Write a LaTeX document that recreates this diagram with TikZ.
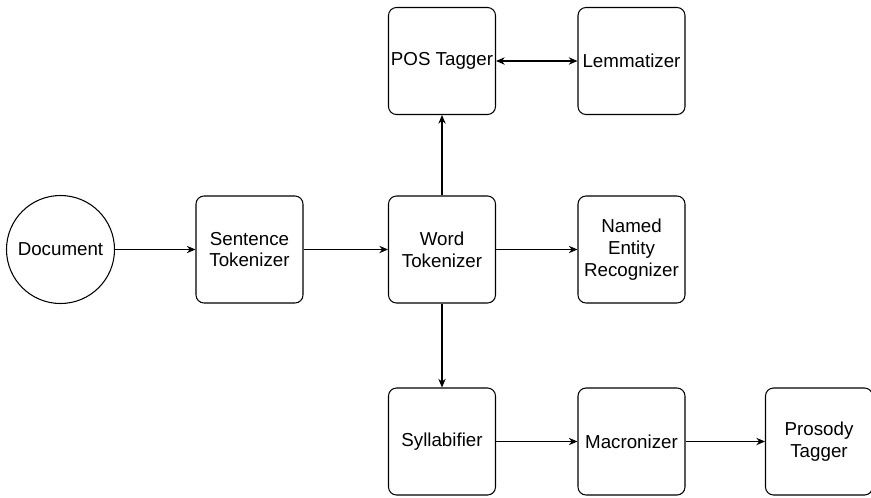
\documentclass[tikz,border=0pt]{standalone}
\usepackage{fontspec}
\setmainfont{Liberation Sans}
\usetikzlibrary{positioning,arrows.meta}

\begin{document}
\begin{tikzpicture}[
  stage/.style={rectangle, draw, rounded corners=0.24cm, minimum width=3.21cm, minimum height=3.21cm, align=center, font=\fontsize{16}{18.5}\selectfont, line width=0.9pt, inner sep=0pt},
  source/.style={circle, draw, minimum size=3.24cm, align=center, font=\fontsize{16}{18.5}\selectfont, line width=0.9pt, inner sep=0pt},
  >={Stealth[length=0.26cm, width=0.22cm]}
]
  \useasboundingbox (0,0) rectangle (26.13,-14.91);

  \node[source] (document) at (1.815,-7.485) {Document};
  \node[stage] (sentence) at (7.485,-7.485) {Sentence\\Tokenizer};
  \node[stage] (word) at (13.26,-7.485) {Word\\Tokenizer};
  \node[stage] (pos) at (13.26,-1.83) {POS Tagger};
  \node[stage] (lemma) at (18.945,-1.83) {Lemmatizer};
  \node[stage] (ner) at (18.945,-7.485) {Named\\Entity\\Recognizer};
  \node[stage] (syllab) at (13.26,-13.245) {Syllabifier};
  \node[stage] (macron) at (18.945,-13.245) {Macronizer};
  \node[stage] (prosody) at (24.57,-13.245) {Prosody\\Tagger};

  \draw[->, line width=0.9pt] (document) -- (sentence);
  \draw[->, line width=0.9pt] (sentence) -- (word);
  \draw[->, line width=0.9pt] (word) -- (pos);
  \draw[<->, line width=0.9pt] (pos) -- (lemma);
  \draw[->, line width=0.9pt] (word) -- (ner);
  \draw[->, line width=0.9pt] (word) -- (syllab);
  \draw[->, line width=0.9pt] (syllab) -- (macron);
  \draw[->, line width=0.9pt] (macron) -- (prosody);
\end{tikzpicture}
\end{document}
